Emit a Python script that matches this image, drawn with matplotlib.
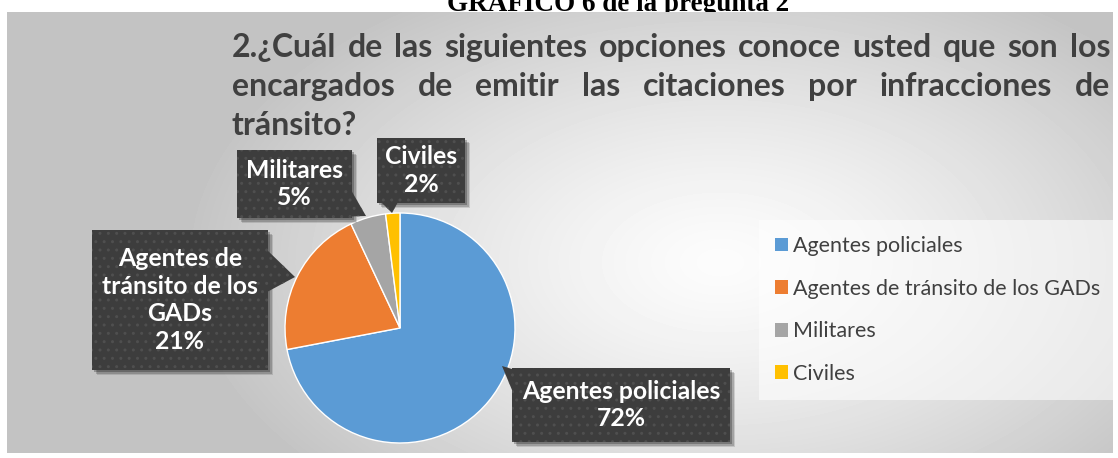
"""
Pie chart: who issues traffic citations (question 2)
"""

import numpy as np
import matplotlib.pyplot as plt
from matplotlib.patches import Rectangle, Polygon

W, H = 1118, 458

categories = ['Agentes policiales', 'Agentes de tránsito de los GADs', 'Militares', 'Civiles']
values = [72, 21, 5, 2]
colors = ['#5B9BD5', '#ED7D31', '#A5A5A5', '#FFC000']
label_texts = ['Agentes policiales\n72%', 'Agentes de\ntránsito de los\nGADs\n21%',
               'Militares\n5%', 'Civiles\n2%']

title_lines = ['2.¿Cuál de las siguientes opciones conoce usted que son los',
               'encargados de emitir las citaciones por infracciones de',
               'tránsito?']
header = 'GRÁFICO 6 de la pregunta 2'


def Y(yimg):
    # image rows -> axes y (pointing up)
    return H - yimg


fig = plt.figure(figsize=(W / 100, H / 100), dpi=100)
fig.patch.set_facecolor('white')

# header sitting behind the chart area, top half cut off by the page edge
fig.text(618 / W, Y(11) / H, header, family='Liberation Serif', weight='bold',
         fontsize=19.5, ha='center', va='baseline', zorder=-1)

# chart area with radial grey gradient
bg = fig.add_axes([7 / W, 5 / H, 1106 / W, 441 / H], zorder=0)
yy, xx = np.mgrid[0:441, 0:1106]
d = np.sqrt(((xx - 713) / 560.0) ** 2 + ((yy - 250) / 330.0) ** 2)
shade = 252 - 56 * np.clip(d / 0.95, 0, 1) ** 1.3
bg.imshow(shade, cmap='gray', vmin=0, vmax=255, aspect='auto', interpolation='bilinear')
bg.axis('off')

ax = fig.add_axes([0, 0, 1, 1], zorder=1)
ax.patch.set_alpha(0)

wedges, _ = ax.pie(values, colors=colors, startangle=90, counterclock=False,
                   center=(400, Y(328)), radius=115, frame=True,
                   wedgeprops=dict(edgecolor='white', linewidth=1))
ax.set_xlim(0, W)
ax.set_ylim(0, H)
ax.set_aspect('equal', adjustable='box')
ax.axis('off')

# justified title
r = fig.canvas.get_renderer()
title_kw = dict(family='Lato', weight='bold', fontsize=23, color='#404040', va='baseline')
x0, x1 = 232, 1110
for i, line in enumerate(title_lines):
    yb = Y(57 + 39 * i)
    words = line.split()
    if i == len(title_lines) - 1:
        ax.text(x0, yb, line, ha='left', **title_kw)
        continue
    arts = [ax.text(0, yb, w, ha='left', **title_kw) for w in words]
    widths = [a.get_window_extent(r).width for a in arts]
    gap = (x1 - x0 - sum(widths)) / (len(words) - 1)
    x = x0
    for a, wd in zip(arts, widths):
        a.set_x(x)
        x += wd + gap

# data label callouts: (box x0, x1, y0, y1) in image px, pointer triangle
boxes = [(512, 730, 368, 442), (92, 268, 230, 370), (237, 352, 150, 218), (377, 465, 138, 203)]
pointers = [[(512, 369), (502, 366), (512, 390)],
            [(267, 250), (295, 277), (267, 292)],
            [(333, 217), (351, 190), (366, 216)],
            [(381, 202), (392, 213), (398, 202)]]

for (bx0, bx1, by0, by1), tri, txt in zip(boxes, pointers, label_texts):
    for k, a in [(5, 0.12), (3.5, 0.18), (2, 0.25)]:
        ax.add_patch(Rectangle((bx0 + k, Y(by1 + k)), bx1 - bx0, by1 - by0,
                               facecolor='black', edgecolor='none', alpha=a, zorder=3))
    pts = [(px, Y(py)) for px, py in tri]
    for patch in [Rectangle((bx0, Y(by1)), bx1 - bx0, by1 - by0),
                  Polygon(pts, closed=True)]:
        patch.set_facecolor('#3d3d3d')
        patch.set_edgecolor('#4f4f4f')
        patch.set_linewidth(0)
        patch.set_hatch('..')
        patch.set_zorder(4)
        ax.add_patch(patch)
    ax.text((bx0 + bx1) / 2, Y((by0 + by1) / 2), txt, ha='center', va='center',
            family='Lato', weight='bold', fontsize=17.8, color='white',
            linespacing=1.25, zorder=5)

leg = ax.legend(wedges, categories, loc='center left',
                bbox_to_anchor=(759 / W, Y(310) / H), bbox_transform=fig.transFigure,
                prop=dict(family='Lato', size=15.5), labelcolor='#404040',
                frameon=True, fancybox=False, framealpha=0.55, edgecolor='none',
                handlelength=0.62, handleheight=0.62, handletextpad=0.22,
                labelspacing=1.05, borderpad=0.75, borderaxespad=0)
leg.get_frame().set_facecolor('white')
for h in leg.legend_handles:
    h.set_edgecolor('none')

plt.savefig('out.png', dpi=100)
